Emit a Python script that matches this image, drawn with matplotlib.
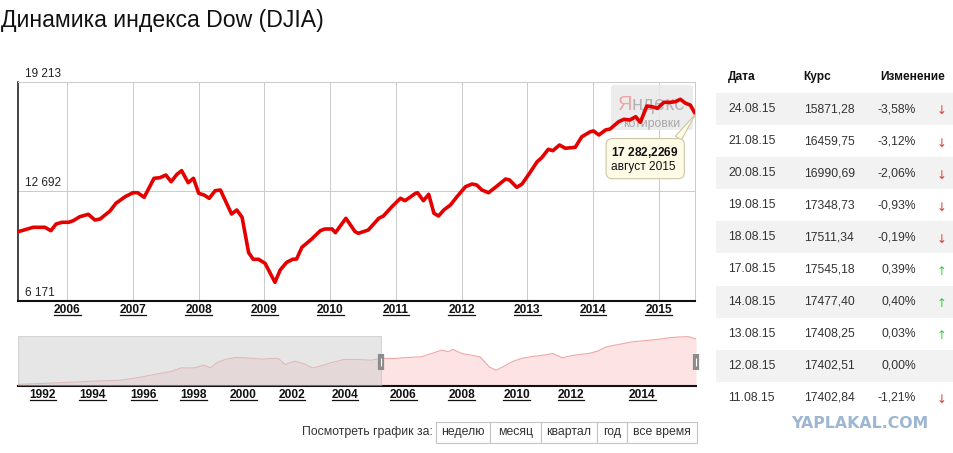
import numpy as np
import matplotlib
matplotlib.use("Agg")
import matplotlib.pyplot as plt
from matplotlib.patches import FancyBboxPatch, Rectangle
from matplotlib.lines import Line2D
from matplotlib.transforms import IdentityTransform, blended_transform_factory

plt.rcParams['font.family'] = ['Liberation Sans', 'DejaVu Sans']
plt.rcParams['mathtext.fontset'] = 'custom'
plt.rcParams['mathtext.rm'] = 'Liberation Sans'
plt.rcParams['mathtext.bf'] = 'Liberation Sans:bold'

# ---------------- data ----------------
title = "Динамика индекса Dow (DJIA)"

main_t = [2005.25, 2005.38, 2005.48, 2005.66, 2005.75, 2005.83, 2005.92, 2006.02, 2006.09, 2006.19,
          2006.32, 2006.42, 2006.50, 2006.65, 2006.74, 2006.88, 2007.00, 2007.07, 2007.17, 2007.32,
          2007.41, 2007.50, 2007.58, 2007.67, 2007.74, 2007.84, 2007.92, 2008.00, 2008.08, 2008.16,
          2008.25, 2008.33, 2008.50, 2008.58, 2008.66, 2008.76, 2008.83, 2008.91, 2009.01, 2009.16,
          2009.24, 2009.34, 2009.43, 2009.49, 2009.57, 2009.72, 2009.85, 2009.92, 2010.03, 2010.08,
          2010.24, 2010.38, 2010.43, 2010.58, 2010.74, 2010.81, 2010.94, 2011.07, 2011.14, 2011.30,
          2011.33, 2011.42, 2011.50, 2011.58, 2011.65, 2011.73, 2011.83, 2011.93, 2012.06, 2012.16,
          2012.23, 2012.31, 2012.41, 2012.54, 2012.67, 2012.73, 2012.84, 2012.92, 2013.05, 2013.15,
          2013.22, 2013.32, 2013.39, 2013.49, 2013.58, 2013.73, 2013.83, 2013.96, 2014.01, 2014.09,
          2014.19, 2014.26, 2014.39, 2014.47, 2014.56, 2014.65, 2014.72, 2014.82, 2014.90, 2014.98,
          2015.08, 2015.18, 2015.25, 2015.33, 2015.41, 2015.48, 2015.56]
main_v = [10280, 10423, 10542, 10542, 10340, 10739, 10840, 10840, 10935, 11173,
          11316, 10977, 11036, 11513, 11971, 12364, 12602, 12602, 12329, 13460,
          13496, 13657, 13257, 13699, 13913, 13198, 13460, 12567, 12466, 12269,
          12721, 12763, 11334, 11572, 11137, 9029, 8636, 8636, 8398, 7267,
          8000, 8458, 8636, 8654, 9351, 9845, 10340, 10441, 10441, 10220,
          11078, 10280, 10185, 10381, 11078, 11215, 11769, 12269, 12126, 12567,
          12602, 12126, 12507, 11376, 11215, 11572, 11870, 12364, 12960, 13120,
          13061, 12763, 12602, 13001, 13418, 13359, 12924, 13120, 13853, 14449,
          14687, 15187, 15104, 15443, 15247, 15306, 15937, 16235, 16276, 16039,
          16336, 16396, 16830, 16973, 16932, 17129, 16795, 17765, 17723, 17628,
          17985, 17985, 18021, 18164, 17926, 17825, 17282]

y_ticks = [6171, 12692, 19213]
main_years = list(range(2006, 2016))

nav_t = [1991.00, 1992.45, 1993.91, 1995.06, 1995.68, 1996.40, 1997.13, 1997.49, 1998.04, 1998.40,
         1998.67, 1998.95, 1999.31, 1999.67, 2000.04, 2000.41, 2000.79, 2001.16, 2001.44, 2001.72,
         2002.09, 2002.43, 2002.77, 2003.11, 2003.45, 2003.97, 2004.44, 2004.91, 2005.22, 2005.69,
         2006.15, 2006.62, 2007.08, 2007.31, 2007.54, 2007.69, 2008.00, 2008.33, 2008.67, 2009.00,
         2009.25, 2009.50, 2009.83, 2010.17, 2010.50, 2011.00, 2011.33, 2011.67, 2012.00, 2012.25,
         2012.50, 2012.75, 2013.00, 2013.25, 2013.75, 2014.27, 2014.55, 2014.82, 2015.09, 2015.37,
         2015.60]
nav_v = [3127, 3549, 4076, 4392, 5130, 6184, 7238, 8292, 8292, 9135,
         8292, 9978, 11032, 11559, 11454, 11243, 11032, 11243, 11243, 9346,
         10400, 9662, 8292, 8924, 9873, 10927, 10927, 10716, 11243, 11243,
         11559, 11770, 13140, 13878, 13351, 14089, 12824, 12297, 11770, 8608,
         7554, 8608, 10189, 11243, 11770, 12297, 12824, 11454, 12086, 12508,
         12824, 13562, 14932, 15459, 16513, 17040, 17356, 17778, 17989, 18094,
         17356]
nav_years = list(range(1992, 2015, 2))
# navigator time axis is not linear: year -> pixel anchors
nav_anchor_year = [1991.0, 1992, 1994, 1996, 1998, 2000, 2002, 2004, 2006, 2008, 2010, 2012, 2014, 2015.6]
nav_anchor_pos = [18, 42.9, 92.7, 143.9, 193.7, 243.5, 292, 345, 403.3, 461.7, 516.7, 571, 642.3, 696]
sel_start = 2005.22

tooltip_value = "17 282,2269"
tooltip_date = "август 2015"

tbl_head = ["Дата", "Курс", "Изменение"]
tbl_dates = ["24.08.15", "21.08.15", "20.08.15", "19.08.15", "18.08.15",
             "17.08.15", "14.08.15", "13.08.15", "12.08.15", "11.08.15"]
tbl_prices = [15871.28, 16459.75, 16990.69, 17348.73, 17511.34,
              17545.18, 17477.40, 17408.25, 17402.51, 17402.84]
tbl_changes = [-3.58, -3.12, -2.06, -0.93, -0.19, 0.39, 0.40, 0.03, 0.00, -1.21]

period_label = "Посмотреть график за:"
buttons = ["неделю", "месяц", "квартал", "год", "все время"]
watermark = "YAPLAKAL.COM"

# ---------------- figure ----------------
W, H = 954, 453
fig = plt.figure(figsize=(W / 100, H / 100), dpi=100, facecolor='white')


def frac(l, t, r, b):
    return [l / W, 1 - b / H, (r - l) / W, (b - t) / H]


ax = fig.add_axes(frac(18, 81.7, 695.5, 300.7))
nav = fig.add_axes(frac(18, 336, 696, 386))
ov = fig.add_axes([0, 0, 1, 1])
ov.set_xlim(0, W)
ov.set_ylim(H, 0)
ov.axis('off')

# ---------------- main chart ----------------
ax.plot(main_t, main_v, color='#e50000', lw=2.6, solid_joinstyle='round',
        solid_capstyle='round', zorder=3)
ax.set_xlim(main_t[0], main_t[-1])
ax.set_ylim(y_ticks[0], y_ticks[-1])
ax.set_xticks(main_years)
ax.set_xticklabels([str(y) for y in main_years], fontsize=8.6, fontweight='bold', color='#111')
ax.set_yticks(y_ticks)
ax.set_yticklabels([])
ax.tick_params(axis='both', length=0)
ax.tick_params(axis='x', pad=2.5)
ax.grid(True, color='#cccccc', lw=0.75)
for s in ['top', 'right']:
    ax.spines[s].set_color('#cccccc')
    ax.spines[s].set_linewidth(0.75)
ax.spines['left'].set_color('#111')
ax.spines['left'].set_linewidth(1.1)
ax.spines['bottom'].set_color('#111')
ax.spines['bottom'].set_linewidth(1.5)

ytr = blended_transform_factory(ax.transAxes, ax.transData)
for v in y_ticks:
    ax.annotate(f"{v:,}".replace(",", " "), xy=(0.0105, v), xycoords=ytr,
                xytext=(0, 5), textcoords='offset pixels', ha='left', va='baseline',
                fontsize=8.5, color='#222', annotation_clip=False)

# Yandex watermark (under the line)
ax.add_artist(FancyBboxPatch((611, 85), 82, 45, boxstyle='round,pad=0,rounding_size=3',
                             transform=ov.transData, fc='#e9e9e9', ec='none', alpha=0.85, zorder=1.8))
ax.text(617.5, 105, "Я", transform=ov.transData, fontsize=14.5, color='#f0a4a4',
        ha='left', va='center', zorder=1.9)
ax.text(631.5, 105, "ндекс", transform=ov.transData, fontsize=14.5, color='#b4b4b4',
        ha='left', va='center', zorder=1.9)
ax.text(652, 124.5, "котировки", transform=ov.transData, fontsize=8.8, color='#a8a8a8',
        ha='center', va='center', zorder=1.9)

# tooltip (bold value line via mathtext, date line plain)
box_fc, box_ec = '#fffbe6', '#cdc5a6'
val_math = r"$\mathbf{" + tooltip_value.replace(" ", r"\;").replace(",", "{,}") + "}$"
ax.annotate(val_math + "\n" + tooltip_date, xy=(main_t[-1], main_v[-1]),
            xytext=(-84, -45), textcoords='offset pixels', ha='left', va='center',
            fontsize=8.6, color='#111', linespacing=1.15,
            bbox=dict(boxstyle='round,pad=0.45,rounding_size=0.5', fc=box_fc, ec=box_ec, lw=0.8),
            arrowprops=dict(arrowstyle='wedge,tail_width=0.6,shrink_factor=0.5', fc=box_fc, ec=box_ec,
                            lw=0.8, relpos=(0.92, 1.0), shrinkA=0, shrinkB=0),
            annotation_clip=False, zorder=6)

# ---------------- navigator ----------------
def nav_fwd(x):
    return np.interp(x, nav_anchor_year, nav_anchor_pos)


def nav_inv(p):
    return np.interp(p, nav_anchor_pos, nav_anchor_year)


nav.set_xscale('function', functions=(nav_fwd, nav_inv))
nav_lo = 2600
nav.fill_between(nav_t, nav_v, nav_lo, color='#fde3e3', lw=0, zorder=1)
nav.plot(nav_t, nav_v, color='#f0a6a6', lw=0.8, zorder=2)
nav.axvspan(nav_anchor_year[0], sel_start, fc='#cfcfcf', ec='#b8b8b8', lw=0.8, alpha=0.5, zorder=3)
nav.set_xlim(nav_anchor_year[0], nav_anchor_year[-1])
nav.set_ylim(nav_lo, 18300)
nav.set_xticks(nav_years)
nav.set_xticklabels([str(y) for y in nav_years], fontsize=8.6, fontweight='bold', color='#111')
nav.set_yticks([])
nav.tick_params(axis='x', length=0, pad=2.5)
nav.minorticks_off()
for s in ['top', 'right', 'left']:
    nav.spines[s].set_visible(False)
nav.spines['bottom'].set_color('#111')
nav.spines['bottom'].set_linewidth(1.5)
htr = blended_transform_factory(nav.transData, nav.transAxes)
for hx in [sel_start, nav_anchor_year[-1]]:
    nav.plot([hx], [0.48], transform=htr, marker='|', ms=12, mew=4.5, color='#8c8c8c',
             clip_on=False, zorder=5)
    nav.plot([hx], [0.48], transform=htr, marker='|', ms=6, mew=0.8, color='white',
             clip_on=False, zorder=6)

# ---------------- overlay: title, table, buttons ----------------
ov.text(1, 21, title, fontsize=16.6, color='#111', ha='left', va='center')

head_x = [728, 803, 945]
head_ha = ['left', 'left', 'right']
for hx, ha, s in zip(head_x, head_ha, tbl_head):
    ov.text(hx, 77, s, fontsize=8.6, fontweight='bold', color='#111', ha=ha, va='center')

row_h = 32.1
for i, (d, p, c) in enumerate(zip(tbl_dates, tbl_prices, tbl_changes)):
    yc = 109 + i * row_h
    if i % 2 == 0:
        ov.add_patch(Rectangle((715.7, yc - 16), W - 715.7, 32, fc='#f2f2f2', ec='none'))
    ov.text(728, yc, d, fontsize=8.7, color='#333', ha='left', va='center')
    ov.text(804, yc, f"{p:.2f}".replace(".", ","), fontsize=8.7, color='#333', ha='left', va='center')
    ov.text(916, yc, f"{c:.2f}%".replace(".", ","), fontsize=8.7, color='#333', ha='right', va='center')
    if c < 0:
        ov.text(942, yc + 2, "↓", fontsize=8.5, color='#d04040', ha='center', va='center',
                family=['DejaVu Sans'])
    elif c > 0:
        ov.text(942, yc + 2, "↑", fontsize=8.5, color='#3ccc3c', ha='center', va='center',
                family=['DejaVu Sans'])

ov.text(791.5, 423.5, watermark, fontsize=11.3, fontweight='bold', color='#9db7d2',
        family=['DejaVu Sans'], ha='left', va='center')

ov.text(432.7, 432, period_label, fontsize=8.8, color='#333', ha='right', va='center')
btn_edges = [435.7, 490, 540.7, 596.7, 626.7, 696.7]
for j, b in enumerate(buttons):
    x0, x1 = btn_edges[j], btn_edges[j + 1]
    ov.add_patch(Rectangle((x0, 421.7), x1 - x0, 21, fc='white', ec='#c4c4c4', lw=0.8))
    ov.text((x0 + x1) / 2, 432, b, fontsize=8.8, color='#333', ha='center', va='center')

# underline year labels
fig.canvas.draw()
r = fig.canvas.get_renderer()
for lab in list(ax.get_xticklabels()) + list(nav.get_xticklabels()):
    if not lab.get_visible() or not lab.get_text():
        continue
    bb = lab.get_window_extent(r)
    fig.add_artist(Line2D([bb.x0, bb.x1], [bb.y0 + 1.5, bb.y0 + 1.5], lw=0.9, color='#111',
                          transform=IdentityTransform()))

fig.savefig("out.png", dpi=100, facecolor='white')
